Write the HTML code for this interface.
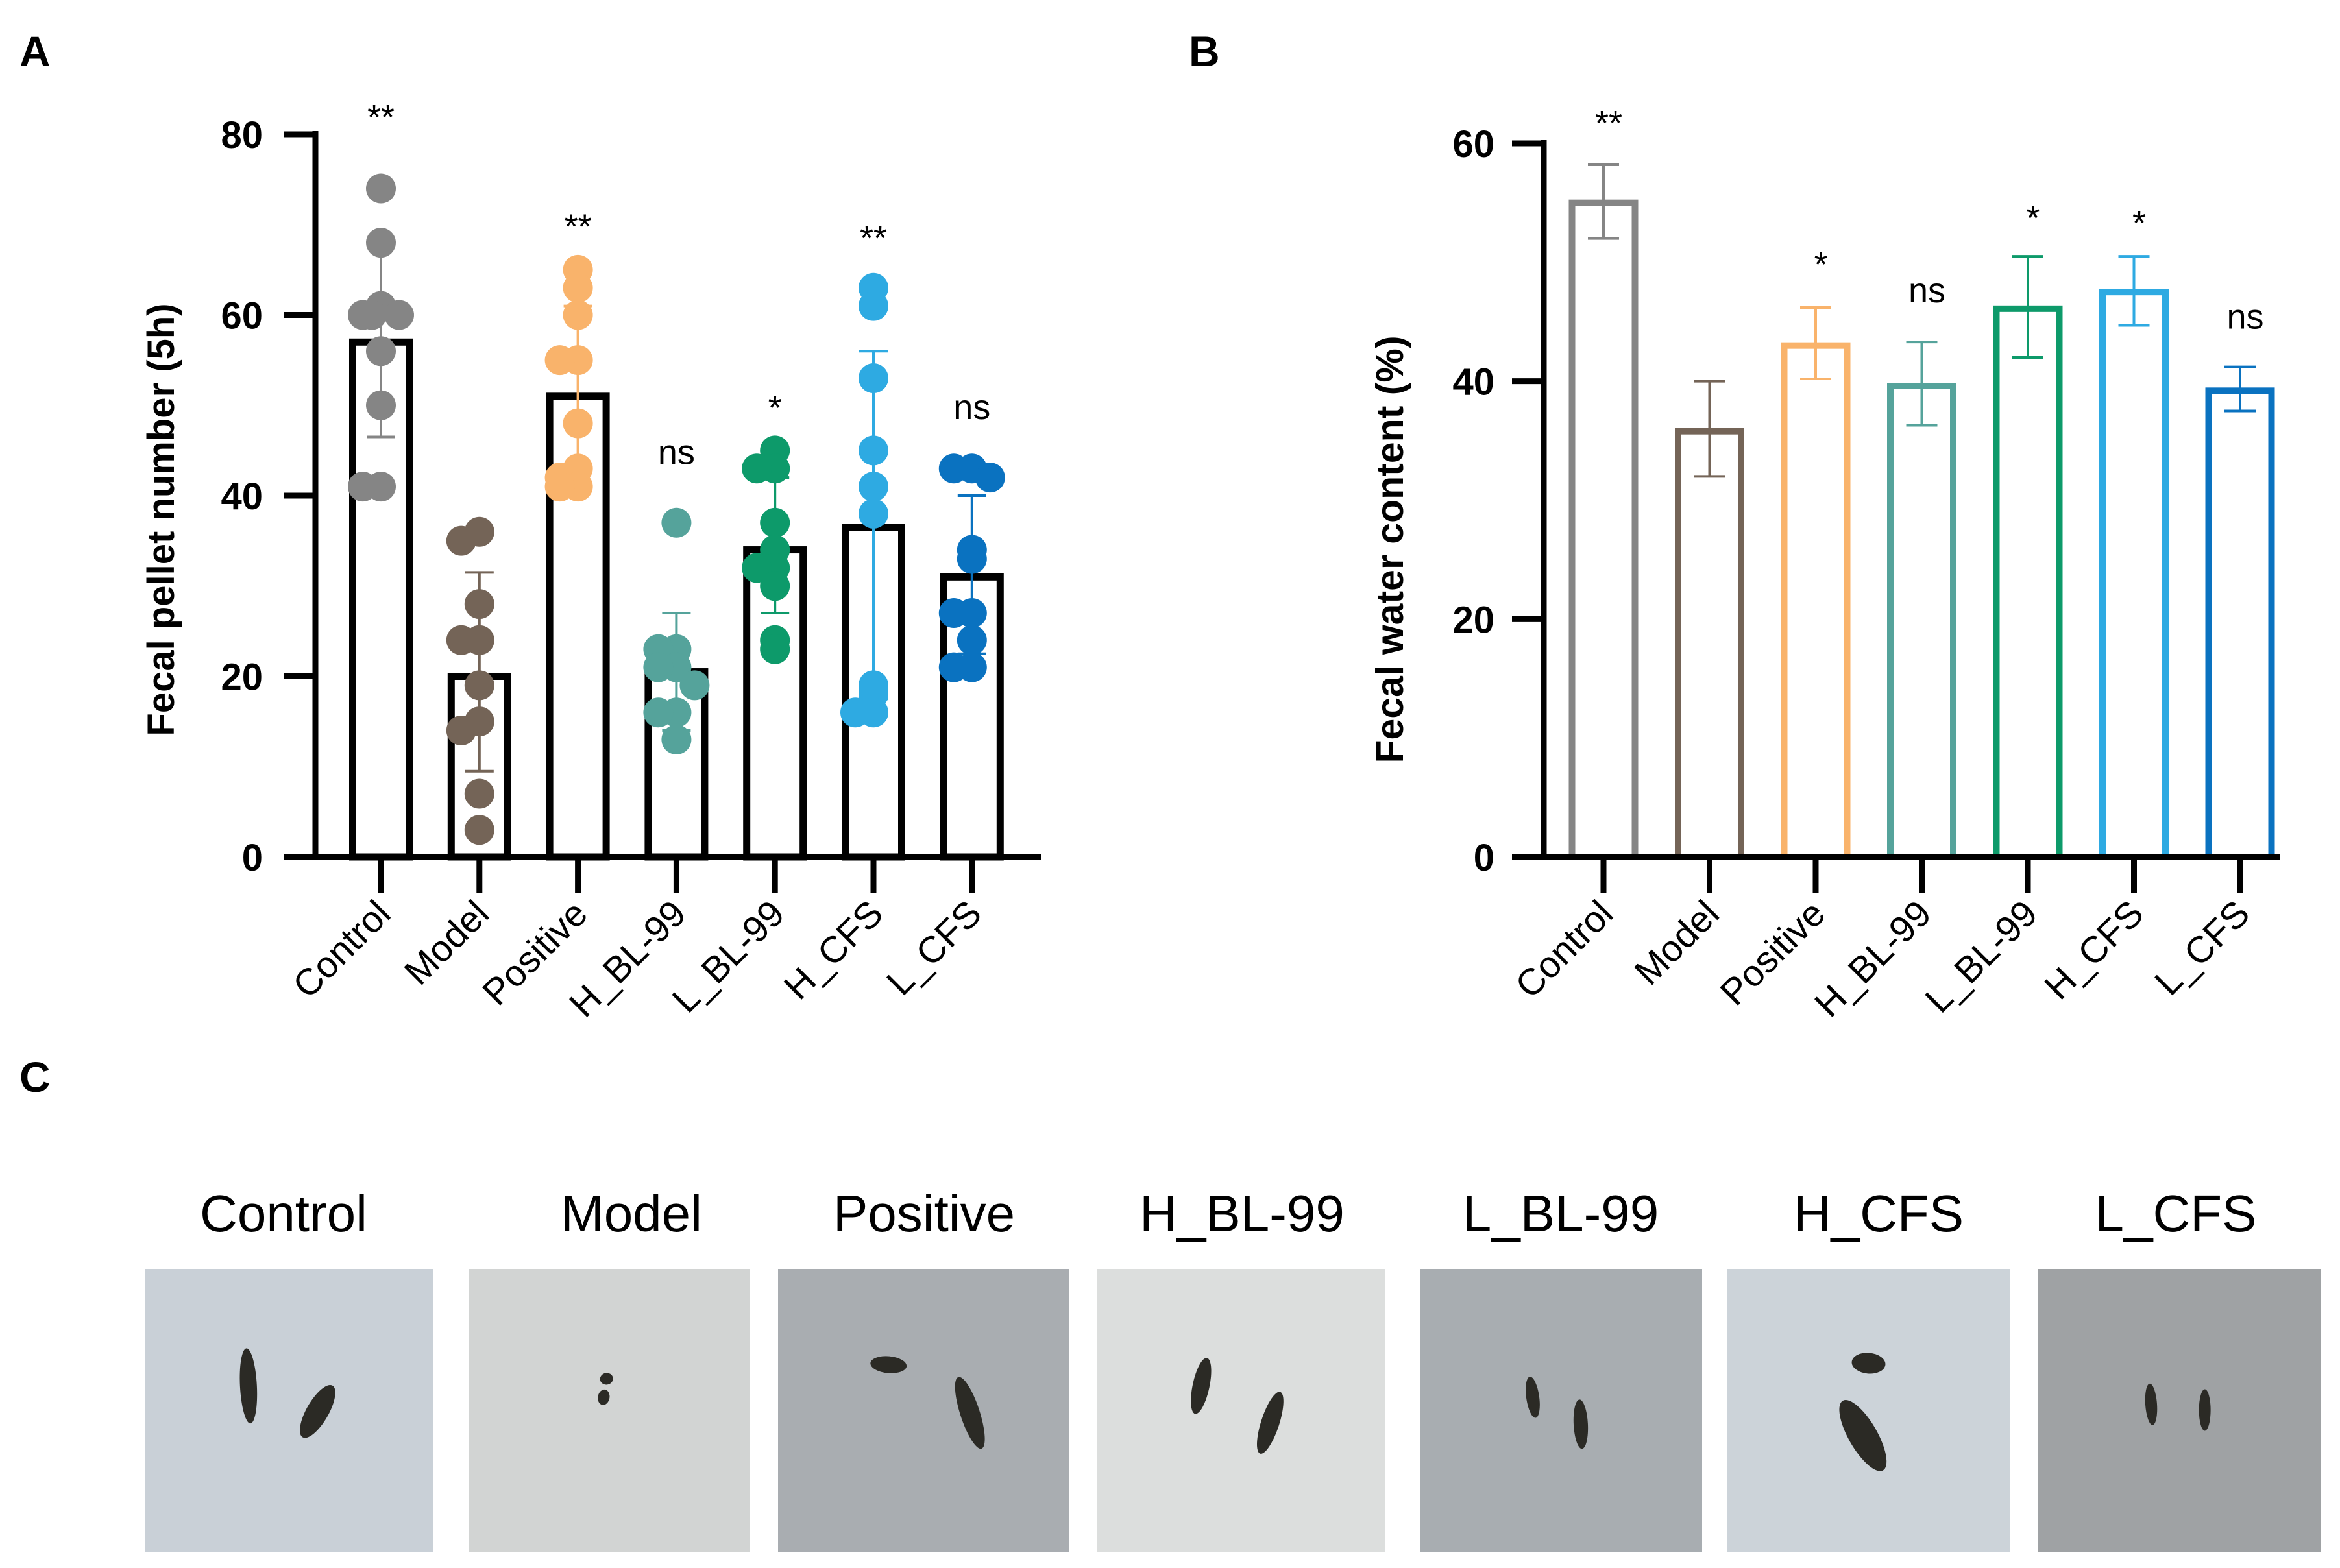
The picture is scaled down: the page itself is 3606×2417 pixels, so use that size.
<!DOCTYPE html>
<html><head><meta charset="utf-8"><style>
html,body{margin:0;padding:0;background:#fff}
svg{display:block;font-family:"Liberation Sans",Arial,sans-serif}
</style></head><body>
<svg id="fig" width="3606" height="2417" viewBox="0 0 3606 2417" xmlns="http://www.w3.org/2000/svg">
<text x="30" y="102" font-size="66" font-weight="bold">A</text>
<text x="1832" y="102" font-size="66" font-weight="bold">B</text>
<text x="30" y="1683" font-size="66" font-weight="bold">C</text>
<g id="chartA"></g>
<g id="chartB"></g>
<g id="panelC"></g>
</svg>
<script>
const categories = ["Control","Model","Positive","H_BL-99","L_BL-99","H_CFS","L_CFS"];
const colors = ["#858585","#746457","#f9b36b","#55a39b","#0d9a6a","#2eaae2","#0a72c0"];
// Panel A
const aMeans = [57,20,51,20.5,34,36.5,31];
const aSdLow = [46.5,9.5,41,14,27,17.5,22.5];
const aSdHigh = [68,31.5,61,27,42,56,40];
const aPoints = [
 [74,68,61,60,60,60,56,50,41,41],
 [36,35,28,24,24,19,15,14,7,3],
 [65,63,60,55,55,48,43,42,41,41],
 [37,23,23,21,21,19,16,16,13],
 [45,43,43,37,34,32,32,30,24,23],
 [63,61,53,45,41,38,19,18,16,16],
 [43,43,42,34,33,27,27,24,21,21]];
const aSig = ["**","","**","ns","*","**","ns"];
const aSigAt = [82.8,0,70.7,44.5,50.6,69.4,49.5];
const aTicks = [0,20,40,60,80];
// Panel B
const bMeans = [55,35.8,43,39.6,46.1,47.5,39.2];
const bErrLow = [52,32,40.2,36.3,42,44.7,37.5];
const bErrHigh = [58.2,40,46.2,43.3,50.5,50.5,41.2];
const bSig = ["**","","*","ns","*","*","ns"];
const bSigAt = [62.4,0,50.5,47.4,54.4,54.0,45.2];
const bTicks = [0,20,40,60];

const NS="http://www.w3.org/2000/svg";
function mk(parent, tag, attrs, name){
  const el=document.createElementNS(NS,tag);
  for(const k in attrs) el.setAttribute(k,attrs[k]);
  
  
  parent.appendChild(el); return el;
}
function sigText(g, x, yc, s, name){
  const fs = s==='ns'?54:54;
  const base = s==='ns' ? yc+0.26*fs : yc+0.57*fs;
  const t=mk(g,'text',{x:x,y:base,'font-size':fs,'text-anchor':'middle'},name); t.textContent=s;
}

// ---------- Panel A ----------
(function(){
  const g=document.getElementById('chartA');
  const y0=1321, yTop=207, vmax=80, axX=486;
  const y=v=>y0-(v/vmax)*(y0-yTop);
  const x=i=>587+i*151.8;
  const bw=87;
  categories.forEach((c,i)=>{
    mk(g,'rect',{x:x(i)-bw/2,y:y(aMeans[i]),width:bw,height:y0-y(aMeans[i]),fill:'#fff',stroke:'#000','stroke-width':11},'bar-a-'+c);
  });
  categories.forEach((c,i)=>{
    const col=colors[i];
    mk(g,'line',{x1:x(i),x2:x(i),y1:y(aSdLow[i]),y2:y(aSdHigh[i]),stroke:col,'stroke-width':4},'error-bar-a-'+c);
    [aSdLow[i],aSdHigh[i]].forEach(v=>mk(g,'line',{x1:x(i)-22,x2:x(i)+22,y1:y(v),y2:y(v),stroke:col,'stroke-width':4},'error-cap-a-'+c));
    const pts=aPoints[i]; const used={};
    pts.forEach(v=>{
      const key=Math.round(v/2.5); used[key]=(used[key]||0)+1; const n=used[key];
      const off=[0,-28,28,-14,14][(n-1)%5];
      mk(g,'circle',{cx:x(i)+off,cy:y(v),r:23,fill:col},'point-a-'+c);
    });
    if(aSig[i]) sigText(g, x(i), y(aSigAt[i]), aSig[i], 'significance-a-'+c);
  });
  mk(g,'line',{x1:axX,x2:axX,y1:yTop-5,y2:y0+5,stroke:'#000','stroke-width':9},'y-axis-a');
  mk(g,'line',{x1:axX-5,x2:1604,y1:y0,y2:y0,stroke:'#000','stroke-width':9},'x-axis-a');
  aTicks.forEach(t=>{
    mk(g,'line',{x1:437,x2:axX,y1:y(t),y2:y(t),stroke:'#000','stroke-width':9},'y-tick-a');
    const tx=mk(g,'text',{x:405,y:y(t)+21,'font-size':58,'font-weight':'bold','text-anchor':'end'},'y-tick-label-a'); tx.textContent=t;
  });
  categories.forEach((c,i)=>{
    mk(g,'line',{x1:x(i),x2:x(i),y1:y0,y2:1376,stroke:'#000','stroke-width':9},'x-tick-a');
    const t=mk(g,'text',{transform:`translate(${x(i)+18},1412) rotate(-45)`,'font-size':57,'text-anchor':'end'},'x-label-a-'+c); t.textContent=c;
  });
  const yl=mk(g,'text',{transform:'translate(268,801) rotate(-90)','font-size':58,'font-weight':'bold','text-anchor':'middle'},'y-axis-title-a');
  yl.textContent='Fecal pellet number (5h)';
})();

// ---------- Panel B ----------
(function(){
  const g=document.getElementById('chartB');
  const y0=1321, vmax=60, axX=2379;
  const yTop=221;
  const y=v=>y0-(v/vmax)*(y0-yTop);
  const x=i=>2471+i*163.5;
  const bw=97;
  categories.forEach((c,i)=>{
    const col=colors[i];
    mk(g,'rect',{x:x(i)-bw/2,y:y(bMeans[i]),width:bw,height:y0-y(bMeans[i]),fill:'#fff',stroke:col,'stroke-width':10},'bar-b-'+c);
    mk(g,'line',{x1:x(i),x2:x(i),y1:y(bErrLow[i]),y2:y(bErrHigh[i]),stroke:col,'stroke-width':4},'error-bar-b-'+c);
    [bErrLow[i],bErrHigh[i]].forEach(v=>mk(g,'line',{x1:x(i)-24,x2:x(i)+24,y1:y(v),y2:y(v),stroke:col,'stroke-width':4},'error-cap-b-'+c));
    if(bSig[i]) sigText(g, x(i)+8, y(bSigAt[i]), bSig[i], 'significance-b-'+c);
    mk(g,'line',{x1:x(i),x2:x(i),y1:y0,y2:1376,stroke:'#000','stroke-width':9},'x-tick-b');
    const t=mk(g,'text',{transform:`translate(${x(i)+18},1412) rotate(-45)`,'font-size':57,'text-anchor':'end'},'x-label-b-'+c); t.textContent=c;
  });
  mk(g,'line',{x1:axX,x2:axX,y1:yTop-5,y2:y0+5,stroke:'#000','stroke-width':9},'y-axis-b');
  mk(g,'line',{x1:axX-5,x2:3514,y1:y0,y2:y0,stroke:'#000','stroke-width':9},'x-axis-b');
  bTicks.forEach(t=>{
    mk(g,'line',{x1:2330,x2:axX,y1:y(t),y2:y(t),stroke:'#000','stroke-width':9},'y-tick-b');
    const tx=mk(g,'text',{x:2303,y:y(t)+21,'font-size':58,'font-weight':'bold','text-anchor':'end'},'y-tick-label-b'); tx.textContent=t;
  });
  const yl=mk(g,'text',{transform:'translate(2162,847) rotate(-90)','font-size':59,'font-weight':'bold','text-anchor':'middle'},'y-axis-title-b');
  yl.textContent='Fecal water content (%)';
})();

// ---------- Panel C ----------
(function(){
  const g=document.getElementById('panelC');
  const centers=[437,973,1424,1914,2405,2895,3353];
  const boxes=[[223,667,'#c9d0d7'],[723,1155,'#d2d4d3'],[1199,1647,'#a9adb1'],[1691,2135,'#dcdedd'],[2188,2623,'#a8adb1'],[2662,3097,'#ccd3d9'],[3141,3576,'#9fa2a4']];
  const pellets=[
    [[0.36,0.2,13,58,-3],[0.6,0.38,17,46,30]],
    [[0.49,0.15,10,9,-10],[0.48,0.28,9,12,10]],
    [[0.38,0.05,28,13,5],[0.66,0.39,15,58,-18]],
    [[0.36,0.2,13,44,12],[0.6,0.46,14,50,18]],
    [[0.4,0.28,10,32,-8],[0.57,0.47,11,38,-3]],
    [[0.5,0.04,26,16,5],[0.48,0.55,22,62,-30]],
    [[0.4,0.33,9,32,-4],[0.59,0.37,9,32,0]]];
  categories.forEach((c,i)=>{
    const t=mk(g,'text',{x:centers[i],y:1898,'font-size':80,'text-anchor':'middle'},'photo-title-'+c); t.textContent=c;
    const [x1,x2,bg]=boxes[i]; const w=x2-x1, top=1956, h=437;
    mk(g,'rect',{x:x1,y:top,width:w,height:h,fill:bg},'photo-'+c);
    pellets[i].forEach(p=>{
      const cx=x1+p[0]*w, cy=top+h*0.45+p[1]*h*0.5;
      mk(g,'ellipse',{cx:cx,cy:cy-60,rx:p[2],ry:p[3],fill:'#2b2a25',transform:`rotate(${p[4]} ${cx} ${cy-60})`},'pellet-'+c);
    });
  });
})();
</script>
</body></html>
